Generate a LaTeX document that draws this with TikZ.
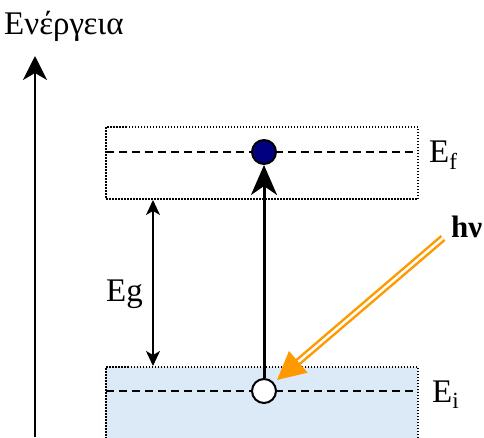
\documentclass[tikz,border=0pt]{standalone}
\usepackage{fontspec}
\setmainfont{Liberation Serif}
\usetikzlibrary{arrows.meta}
\definecolor{lightband}{RGB}{220,234,248}
\definecolor{photon}{RGB}{255,153,0}
\definecolor{electron}{RGB}{0,0,128}
\begin{document}
\begin{tikzpicture}[x=1pt,y=-1pt,
  lbl/.style={font=\fontsize{33}{38}\selectfont, inner sep=0pt},
  bandbox/.style={draw, dash pattern=on 1.5pt off 1.5pt, line width=1.5pt, minimum width=312pt, inner sep=0pt, outer sep=0pt},
  level/.style={dash pattern=on 8pt off 5pt, line width=1.5pt},
  dot/.style={circle, draw, line width=2pt, minimum size=24pt, inner sep=0pt},
  bigtip/.style={-{Stealth[length=24pt,width=24pt,inset=7pt]}}
]
\useasboundingbox (0,0) rectangle (484,437);
% bands
\node[bandbox, minimum height=72pt] (cb) at (262,163) {};
\node[bandbox, fill=lightband, minimum height=80pt] (vb) at (262,407) {};
% levels
\coordinate (fl) at (106,152); \coordinate (fr) at (418,152);
\coordinate (il) at (106,391); \coordinate (ir) at (418,391);
\draw[level] (fl) -- (fr);
\draw[level] (il) -- (ir);
% electron and hole
\node[dot, fill=electron] (el) at (264,152) {};
\node[dot, fill=white] (ho) at (264,391) {};
% transition
\draw[line width=3pt, -{Stealth[length=30pt,width=26pt,inset=9pt]}] (ho.north) -- (el.south);
% energy axis
\coordinate (ax0) at (35,437);
\coordinate (ax1) at (35,56);
\draw[line width=2pt, bigtip] (ax0) -- (ax1);
\node[lbl, anchor=base west] (en) at (4,34) {Ενέργεια};
% gap
\draw[line width=1.5pt, {Stealth[length=15pt,width=14pt,inset=4pt]}-{Stealth[length=15pt,width=14pt,inset=4pt]}] (153,200) -- (153,366);
\node[lbl, anchor=base west] (eg) at (106,301) {Eg};
% labels
\node[lbl, anchor=base west] (ef) at (429,162) {E\textsubscript{f}};
\node[lbl, anchor=base west] (ei) at (432,402) {E\textsubscript{i}};
% photon
\coordinate (ph0) at (443,238);
\coordinate (ph1) at (277,380);
\draw[draw=photon, double=white, double distance=2.5pt, line width=2.5pt, -{Triangle[length=28pt,width=28pt]}] (ph0) -- (ph1);
\node[lbl, anchor=base west, font=\fontsize{31}{36}\selectfont\bfseries] (hv) at (451,237) {hν};
\end{tikzpicture}
\end{document}
